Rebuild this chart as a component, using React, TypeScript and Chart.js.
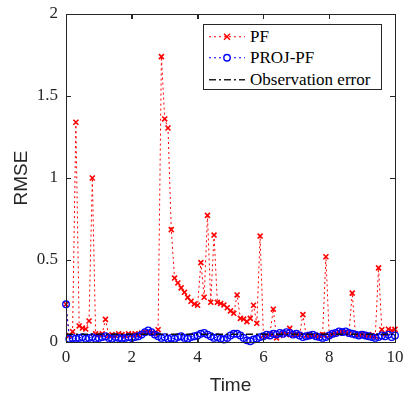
import React, { useEffect, useRef, useState } from "react";
import { Chart, registerables } from "chart.js";

Chart.register(...registerables);

const TIME = [
  0, 0.1, 0.2, 0.3, 0.4, 0.5, 0.6, 0.7, 0.8, 0.9,
  1, 1.1, 1.2, 1.3, 1.4, 1.5, 1.6, 1.7, 1.8, 1.9,
  2, 2.1, 2.2, 2.3, 2.4, 2.5, 2.6, 2.7, 2.8, 2.9,
  3, 3.1, 3.2, 3.3, 3.4, 3.5, 3.6, 3.7, 3.8, 3.9,
  4, 4.1, 4.2, 4.3, 4.4, 4.5, 4.6, 4.7, 4.8, 4.9,
  5, 5.1, 5.2, 5.3, 5.4, 5.5, 5.6, 5.7, 5.8, 5.9,
  6, 6.1, 6.2, 6.3, 6.4, 6.5, 6.6, 6.7, 6.8, 6.9,
  7, 7.1, 7.2, 7.3, 7.4, 7.5, 7.6, 7.7, 7.8, 7.9,
  8, 8.1, 8.2, 8.3, 8.4, 8.5, 8.6, 8.7, 8.8, 8.9,
  9, 9.1, 9.2, 9.3, 9.4, 9.5, 9.6, 9.7, 9.8, 9.9,
  10,
];

const PF = [
  0.23, 0.04, 0.063, 1.34, 0.098, 0.085, 0.079, 0.128, 1.0, 0.05,
  0.045, 0.05, 0.138, 0.04, 0.045, 0.04, 0.05, 0.045, 0.04, 0.05,
  0.045, 0.05, 0.045, 0.055, 0.06, 0.06, 0.055, 0.05, 0.075, 1.74,
  1.36, 1.305, 0.685, 0.39, 0.36, 0.33, 0.303, 0.272, 0.248, 0.232,
  0.224, 0.484, 0.273, 0.772, 0.242, 0.652, 0.242, 0.235, 0.226, 0.209,
  0.19, 0.175, 0.287, 0.144, 0.14, 0.124, 0.144, 0.224, 0.114, 0.646,
  0.04, 0.035, 0.05, 0.2, 0.025, 0.04, 0.05, 0.045, 0.083, 0.04,
  0.05, 0.045, 0.167, 0.04, 0.045, 0.04, 0.035, 0.04, 0.045, 0.52,
  0.04, 0.045, 0.05, 0.06, 0.065, 0.06, 0.05, 0.298, 0.04, 0.045,
  0.05, 0.04, 0.045, 0.04, 0.035, 0.452, 0.075, 0.05, 0.078, 0.07,
  0.077,
];

const PROJ_PF = [
  0.23, 0.02, 0.025, 0.02, 0.025, 0.03, 0.02, 0.025, 0.03, 0.02,
  0.025, 0.03, 0.035, 0.025, 0.02, 0.03, 0.025, 0.02, 0.025, 0.03,
  0.025, 0.03, 0.035, 0.045, 0.06, 0.07, 0.06, 0.045, 0.035, 0.025,
  0.03, 0.02, 0.025, 0.02, 0.03, 0.035, 0.025, 0.02, 0.03, 0.035,
  0.04, 0.05, 0.055, 0.045, 0.035, 0.025, 0.03, 0.02, 0.015, 0.025,
  0.04, 0.05, 0.05, 0.04, 0.025, 0.01, 0.005, 0.015, 0.02, 0.03,
  0.035, 0.045, 0.04, 0.05, 0.045, 0.055, 0.05, 0.06, 0.055, 0.045,
  0.05, 0.04, 0.03, 0.035, 0.04, 0.045, 0.035, 0.03, 0.025, 0.03,
  0.04, 0.05, 0.055, 0.065, 0.06, 0.065, 0.055, 0.05, 0.045, 0.04,
  0.045, 0.04, 0.035, 0.03, 0.025, 0.03, 0.04, 0.035, 0.045, 0.03,
  0.04,
];

const OBS_TIME = [0, 10];
const OBS_ERROR = [0.047, 0.047];

const X_TICKS = [0, 2, 4, 6, 8, 10];
const Y_TICKS = [0, 0.5, 1, 1.5, 2];

const LEGEND_LABELS = ["PF", "PROJ-PF", "Observation error"];
const X_TITLE = "Time";
const Y_TITLE = "RMSE";

const AXIS_COLOR = "#262626";
const SERIF = "'Liberation Serif', 'DejaVu Serif', serif";
const SANS = "'Liberation Sans', Arial, sans-serif";

type Frame = { L: number; R: number; T: number; B: number; xt: number[]; yt: number[] };

function AxesBox({ f }: { f: Frame }) {
  const tl = 5;
  const base: any = { position: "absolute", background: AXIS_COLOR, pointerEvents: "none" };
  return (
    <>
      <div
        style={{
          position: "absolute",
          left: f.L,
          top: f.T,
          width: f.R - f.L + 1,
          height: f.B - f.T + 1,
          border: `1px solid ${AXIS_COLOR}`,
          boxSizing: "border-box",
          pointerEvents: "none",
        }}
      />
      {f.xt.map((px, i) => (
        <React.Fragment key={"x" + i}>
          <div style={{ ...base, left: px, top: f.B - tl + 1, width: 1, height: tl }} />
          <div style={{ ...base, left: px, top: f.T, width: 1, height: tl }} />
        </React.Fragment>
      ))}
      {f.yt.map((py, i) => (
        <React.Fragment key={"y" + i}>
          <div style={{ ...base, left: f.L, top: py, width: tl, height: 1 }} />
          <div style={{ ...base, left: f.R - tl + 1, top: py, width: tl, height: 1 }} />
        </React.Fragment>
      ))}
    </>
  );
}

function Legend() {
  const rowH = 21.5;
  const items = [
    { label: LEGEND_LABELS[0], kind: "pf" },
    { label: LEGEND_LABELS[1], kind: "proj" },
    { label: LEGEND_LABELS[2], kind: "obs" },
  ];
  return (
    <div
      style={{
        position: "absolute",
        left: 203,
        top: 24,
        width: 179,
        height: 66,
        border: `1px solid ${AXIS_COLOR}`,
        background: "#fff",
        boxSizing: "border-box",
      }}
    >
      {items.map((it, i) => (
        <div
          key={it.label}
          style={{
            position: "absolute",
            left: 0,
            top: 0.5 + i * rowH,
            height: rowH,
            width: "100%",
            display: "flex",
            alignItems: "center",
          }}
        >
          <svg width={40} height={rowH} style={{ marginLeft: 4, flex: "none" }}>
            {it.kind === "pf" && (
              <g>
                <line x1={1} y1={rowH / 2} x2={37} y2={rowH / 2} stroke="#ff0000" strokeWidth={1} strokeDasharray="2 3" />
                <line x1={16} y1={rowH / 2 - 3} x2={22} y2={rowH / 2 + 3} stroke="#ff0000" strokeWidth={1.5} />
                <line x1={16} y1={rowH / 2 + 3} x2={22} y2={rowH / 2 - 3} stroke="#ff0000" strokeWidth={1.5} />
              </g>
            )}
            {it.kind === "proj" && (
              <g>
                <line x1={1} y1={rowH / 2} x2={37} y2={rowH / 2} stroke="#0000ff" strokeWidth={1} strokeDasharray="2 3" />
                <circle cx={19} cy={rowH / 2} r={3.2} fill="#fff" stroke="#0000ff" strokeWidth={1.4} />
              </g>
            )}
            {it.kind === "obs" && (
              <line x1={1} y1={rowH / 2} x2={37} y2={rowH / 2} stroke="#222" strokeWidth={1.5} strokeDasharray="7 3 2 3" />
            )}
          </svg>
          <span
            style={{
              fontFamily: SERIF,
              fontSize: 17,
              color: "#000",
              marginLeft: 2,
              whiteSpace: "nowrap",
              lineHeight: 1,
            }}
          >
            {it.label}
          </span>
        </div>
      ))}
    </div>
  );
}

export default function App() {
  const canvasRef = useRef<HTMLCanvasElement | null>(null);
  const [frame, setFrame] = useState<Frame | null>(null);

  useEffect(() => {
    document.body.style.margin = "0";
    const canvas = canvasRef.current;
    if (!canvas) return;

    const pfData = TIME.map((t, i) => ({ x: t, y: PF[i] }));
    const projData = TIME.map((t, i) => ({ x: t, y: PROJ_PF[i] }));
    const obsData = OBS_TIME.map((t, i) => ({ x: t, y: OBS_ERROR[i] }));

    const inwardGrid = {
      display: true,
      drawOnChartArea: false,
      drawTicks: true,
      tickLength: -5,
      color: AXIS_COLOR,
      lineWidth: 1,
    };
    const frameBorder = { display: true, color: AXIS_COLOR, width: 1 };

    const chart = new Chart(canvas, {
      type: "line",
      data: {
        datasets: [
          {
            label: LEGEND_LABELS[0],
            data: pfData,
            borderColor: "#ff0000",
            backgroundColor: "#ff0000",
            borderWidth: 1,
            borderDash: [2, 3],
            pointStyle: "crossRot",
            pointRadius: 3.5,
            pointBorderWidth: 1.6,
            pointBorderColor: "#ff0000",
            tension: 0,
            clip: false as any,
            order: 3,
          },
          {
            label: LEGEND_LABELS[1],
            data: projData,
            borderColor: "#0000ff",
            backgroundColor: "rgba(0,0,0,0)",
            borderWidth: 1,
            borderDash: [2, 3],
            pointStyle: "circle",
            pointRadius: 3.3,
            pointBorderWidth: 1.3,
            pointBorderColor: "#0000ff",
            pointBackgroundColor: "rgba(0,0,0,0)",
            tension: 0,
            clip: false as any,
            order: 2,
          },
          {
            label: LEGEND_LABELS[2],
            data: obsData,
            borderColor: "#111",
            borderWidth: 1.5,
            borderDash: [7, 3, 2, 3],
            pointRadius: 0,
            tension: 0,
            order: 1,
          },
        ],
      },
      options: {
        responsive: false,
        animation: false,
        devicePixelRatio: 1,
        layout: { padding: { top: 14, right: 9, left: 0, bottom: 0 } },
        plugins: {
          legend: { display: false },
          tooltip: { enabled: false },
        },
        scales: {
          x: {
            type: "linear",
            position: "bottom",
            min: 0,
            max: 10,
            afterBuildTicks: (scale: any) => {
              scale.ticks = X_TICKS.map((v) => ({ value: v }));
            },
            ticks: {
              color: AXIS_COLOR,
              font: { family: SERIF, size: 17 },
              padding: 10,
              maxRotation: 0,
              autoSkip: false,
              callback: (v: any) => String(v),
            },
            grid: inwardGrid,
            border: frameBorder,
            title: {
              display: true,
              text: X_TITLE,
              color: AXIS_COLOR,
              font: { family: SANS, size: 19 },
              padding: { top: 0, bottom: 3 },
            },
            afterFit: (scale: any) => {
              scale.height = 58;
              scale.paddingLeft = 0;
              scale.paddingRight = 0;
            },
          },
          x2: {
            type: "linear",
            position: "top",
            min: 0,
            max: 10,
            afterBuildTicks: (scale: any) => {
              scale.ticks = X_TICKS.map((v) => ({ value: v }));
            },
            ticks: { display: false },
            grid: inwardGrid,
            border: frameBorder,
            afterFit: (scale: any) => {
              scale.height = 0;
              scale.paddingLeft = 0;
              scale.paddingRight = 0;
            },
          },
          y: {
            type: "linear",
            position: "left",
            min: 0,
            max: 2,
            afterBuildTicks: (scale: any) => {
              scale.ticks = Y_TICKS.map((v) => ({ value: v }));
            },
            ticks: {
              color: AXIS_COLOR,
              font: { family: SERIF, size: 17 },
              padding: 13,
              autoSkip: false,
              callback: (v: any) => String(v),
            },
            grid: inwardGrid,
            border: frameBorder,
            title: {
              display: true,
              text: Y_TITLE,
              color: AXIS_COLOR,
              font: { family: SANS, size: 19 },
              padding: { top: 10, bottom: 0 },
            },
            afterFit: (scale: any) => {
              scale.width = 66;
              scale.paddingTop = 0;
              scale.paddingBottom = 0;
            },
          },
          y2: {
            type: "linear",
            position: "right",
            min: 0,
            max: 2,
            afterBuildTicks: (scale: any) => {
              scale.ticks = Y_TICKS.map((v) => ({ value: v }));
            },
            ticks: { display: false },
            grid: inwardGrid,
            border: frameBorder,
            afterFit: (scale: any) => {
              scale.width = 0;
              scale.paddingTop = 0;
              scale.paddingBottom = 0;
            },
          },
        },
      } as any,
    });

    const ca = chart.chartArea;
    const xs: any = chart.scales.x;
    const ys: any = chart.scales.y;
    setFrame({
      L: Math.round(ca.left),
      R: Math.round(ca.right),
      T: Math.round(ca.top),
      B: Math.round(ca.bottom),
      xt: X_TICKS.map((v) => Math.round(xs.getPixelForValue(v))),
      yt: Y_TICKS.map((v) => Math.round(ys.getPixelForValue(v))),
    });

    return () => chart.destroy();
  }, []);

  return (
    <div style={{ position: "relative", width: 404, height: 400 }}>
      <canvas ref={canvasRef} width={404} height={400} style={{ display: "block" }} />
      {frame && <AxesBox f={frame} />}
      <Legend />
    </div>
  );
}
